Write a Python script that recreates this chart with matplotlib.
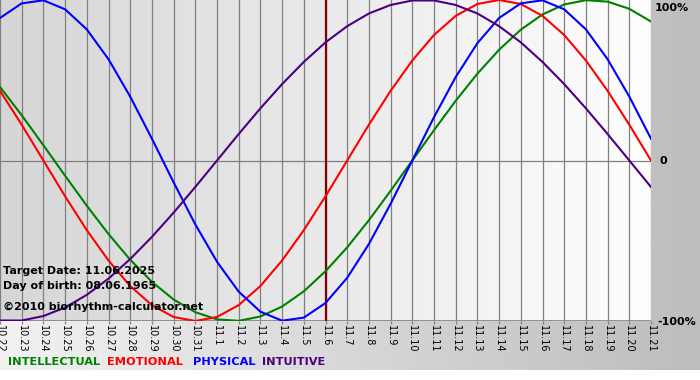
import matplotlib.pyplot as plt
import numpy as np
from matplotlib.colors import LinearSegmentedColormap

# days shown on the x axis (month.day)
dates = ['10.22', '10.23', '10.24', '10.25', '10.26', '10.27', '10.28', '10.29',
         '10.30', '10.31', '11.1', '11.2', '11.3', '11.4', '11.5', '11.6', '11.7',
         '11.8', '11.9', '11.10', '11.11', '11.12', '11.13', '11.14', '11.15',
         '11.16', '11.17', '11.18', '11.19', '11.20', '11.21']

# cycle values per day, -1 .. 1
intellectual = [0.458, 0.282, 0.095, -0.095, -0.282, -0.458, -0.618, -0.756, -0.866,
                -0.945, -0.990, -0.999, -0.972, -0.910, -0.815, -0.690, -0.541, -0.372,
                -0.189, 0.0, 0.189, 0.372, 0.541, 0.690, 0.815, 0.910, 0.972, 0.999,
                0.990, 0.945, 0.866]
emotional = [0.434, 0.223, 0.0, -0.223, -0.434, -0.623, -0.782, -0.901, -0.975, -1.0,
             -0.975, -0.901, -0.782, -0.623, -0.434, -0.223, 0.0, 0.223, 0.434, 0.623,
             0.782, 0.901, 0.975, 1.0, 0.975, 0.901, 0.782, 0.623, 0.434, 0.223, 0.0]
physical = [0.888, 0.979, 0.998, 0.942, 0.817, 0.631, 0.398, 0.136, -0.136, -0.398,
            -0.631, -0.817, -0.942, -0.998, -0.979, -0.888, -0.731, -0.520, -0.270, 0.0,
            0.270, 0.520, 0.731, 0.888, 0.979, 0.998, 0.942, 0.817, 0.631, 0.398, 0.136]
intuitive = [-0.997, -0.997, -0.969, -0.916, -0.837, -0.736, -0.614, -0.476, -0.325,
             -0.165, 0.0, 0.165, 0.325, 0.476, 0.614, 0.736, 0.837, 0.916, 0.969, 0.997,
             0.997, 0.969, 0.916, 0.837, 0.736, 0.614, 0.476, 0.325, 0.165, 0.0, -0.165]

target_date = '11.6'
info_lines = ['Target Date: 11.06.2025', 'Day of birth: 08.06.1965']
credit = '\u00a92010 biorhythm-calculator.net'

series = [('INTELLECTUAL', intellectual, '#008000'),
          ('EMOTIONAL', emotional, '#ff0000'),
          ('PHYSICAL', physical, '#0000ff'),
          ('INTUITIVE', intuitive, '#4b0082')]

W, H = 700, 380
fig = plt.figure(figsize=(7, 3.8), dpi=100)
fig.patch.set_facecolor('white')

# grey strip behind everything, light on the left, darker on the right
bg = fig.add_axes([0, 1 - 370 / H, 1, 370 / H])
bg_cmap = LinearSegmentedColormap.from_list('bg', ['#f2f2f2', '#bdbdbd'])
bg.imshow(np.linspace(0, 1, 256).reshape(1, -1), cmap=bg_cmap, aspect='auto',
          extent=[0, 1, 0, 1])
bg.axis('off')

ax = fig.add_axes([0, 1 - 321 / H, 651 / W, 321 / H])
x = np.arange(len(dates))
ax.set_xlim(0, len(dates) - 1)
ax.set_ylim(-1, 1)

plot_cmap = LinearSegmentedColormap.from_list('plot', ['#d6d6d6', '#fefefe'])
ax.imshow(np.linspace(0, 1, 256).reshape(1, -1), cmap=plot_cmap, aspect='auto',
          extent=[0, len(dates) - 1, -1, 1], zorder=0)

for xi in x:
    ax.axvline(xi, color='#808080', lw=0.9, zorder=1)
ax.axhline(0, color='#808080', lw=0.9, zorder=1)
ax.axhline(-1, color='#808080', lw=1.2, zorder=1)

ax.axvline(dates.index(target_date), color='#800000', lw=1.6, zorder=2)

for name, vals, col in series:
    ax.plot(x, vals, color=col, lw=1.5, zorder=3, solid_joinstyle='round')

for sp in ax.spines.values():
    sp.set_visible(False)
ax.set_yticks([])
ax.set_xticks(x)
ax.set_xticklabels(dates, rotation=-90, fontsize=7, va='top', ha='center')
ax.tick_params(axis='x', length=2, width=0.9, color='#808080', pad=1)

# texts inside the chart
for i, line in enumerate(info_lines):
    ax.text(3 / 651, 1 - (271 + 15 * i) / 321, line, transform=ax.transAxes,
            fontsize=8, fontweight='bold', va='center', ha='left', zorder=4)
ax.text(3 / 651, 1 - 307 / 321, credit, transform=ax.transAxes,
        fontsize=8, fontweight='bold', va='center', ha='left', zorder=4)

# right hand scale
fig.text(655 / W, 1 - 8 / H, '100%', fontsize=8, fontweight='bold', va='center')
fig.text(660 / W, 1 - 161 / H, '0', fontsize=8, fontweight='bold', va='center')
fig.text(657 / W, 1 - 322 / H, '-100%', fontsize=8, fontweight='bold', va='center')

# legend row
legend_x = [8, 107, 193, 262]
for (name, vals, col), lx in zip(series, legend_x):
    fig.text(lx / W, 1 - 362 / H, name, color=col, fontsize=8.2, fontweight='bold',
             va='center', ha='left')

fig.savefig('out.png', dpi=100)
